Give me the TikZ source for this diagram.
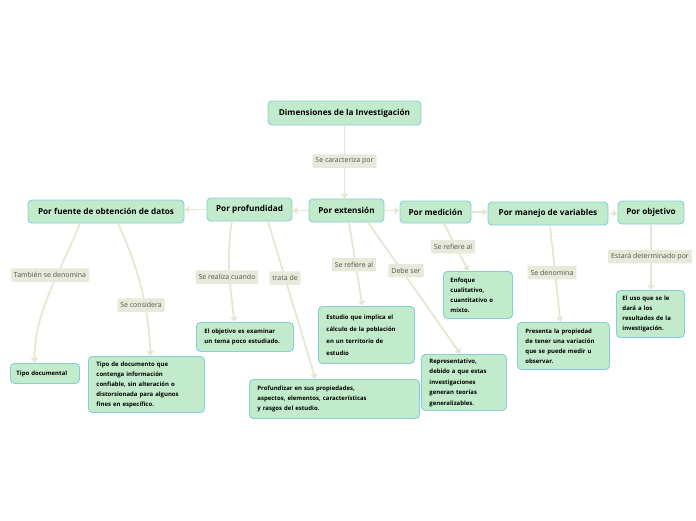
\documentclass[tikz,border=0pt]{standalone}
\usepackage{fontspec}
\setmainfont{Open Sans}
\usetikzlibrary{arrows.meta}
\definecolor{nodefill}{HTML}{C2EBCB}
\definecolor{nodeborder}{HTML}{86CDDC}
\definecolor{lblfill}{HTML}{E8E9DB}
\definecolor{lbltext}{HTML}{555555}
\definecolor{connc}{HTML}{E7E6D4}
\begin{document}
\begin{tikzpicture}[x=1pt,y=-1pt,
  mainbox/.style={draw=nodeborder, fill=nodefill, rounded corners=4pt, line width=0.9pt,
    font=\fontsize{8.2}{9}\selectfont\bfseries, inner sep=0pt},
  subbox/.style={draw=nodeborder, fill=nodefill, rounded corners=4pt, line width=0.9pt,
    font=\fontsize{6}{10}\selectfont\bfseries, align=left, anchor=north west,
    inner xsep=8pt, inner ysep=0pt},
  lbl/.style={fill=lblfill, text=lbltext, font=\fontsize{7}{8}\selectfont,
    inner xsep=3pt, inner ysep=0pt, minimum height=13.5pt, rounded corners=1pt},
  conn/.style={draw=connc, line width=1.7pt},
  arr/.style={conn, -{Triangle[width=7pt,length=5pt]}}
]
\useasboundingbox[fill=white] (0,0) rectangle (696,520);

% main nodes
\node[mainbox, minimum width=153pt, minimum height=24pt] (root) at (344.5,113) {Dimensiones de la Investigación};
\node[mainbox, minimum width=75pt, minimum height=23pt] (ext) at (346.5,210.5) {Por extensión};
\node[mainbox, minimum width=85pt, minimum height=23pt] (prof) at (249.5,209.5) {Por profundidad};
\node[mainbox, minimum width=156pt, minimum height=23pt] (fuente) at (106,211.5) {Por fuente de obtención de datos};
\node[mainbox, minimum width=71pt, minimum height=22pt] (med) at (435.5,212) {Por medición};
\node[mainbox, minimum width=120pt, minimum height=23pt] (manejo) at (548,213.5) {Por manejo de variables};
\node[mainbox, minimum width=66pt, minimum height=23pt] (obj) at (651,212.5) {Por objetivo};

% sub nodes
\node[subbox, minimum width=69pt, minimum height=20pt, text width=57pt, inner xsep=6pt] (tdoc) at (10,363) {Tipo~documental};
\node[subbox, minimum width=116pt, minimum height=56pt, text width=100pt] (tipo) at (88,356) {Tipo~de~documento~que\\contenga~información\\confiable,~sin~alteración~o\\distorsionada~para~algunos\\fines~en~específico.};
\node[subbox, minimum width=97pt, minimum height=29pt, text width=81pt] (objx) at (196,322) {El~objetivo~es~examinar\\un~tema~poco~estudiado.};
\node[subbox, minimum width=170pt, minimum height=39pt, text width=154pt] (profz) at (249,379) {Profundizar en sus propiedades,\\aspectos, elementos, características\\y rasgos del estudio.};
\node[subbox, minimum width=96pt, minimum height=57pt, text width=80pt, font=\fontsize{6}{12}\selectfont\bfseries] (estudio) at (318,306) {Estudio~que~implica~el\\cálculo~de~la~población\\en~un~territorio~de\\estudio};
\node[subbox, minimum width=85pt, minimum height=56pt, text width=69pt, font=\fontsize{6}{10.5}\selectfont\bfseries] (repr) at (421,354) {Representativo,\\debido~a~que~estas\\investigaciones\\generan~teorías\\generalizables.};
\node[subbox, minimum width=69pt, minimum height=47pt, text width=55pt, inner xsep=7pt] (enf) at (443,271) {Enfoque\\cualitativo,\\cuantitativo~o\\mixto.};
\node[subbox, minimum width=92pt, minimum height=47pt, text width=76pt] (pres) at (517,322) {Presenta~la~propiedad\\de~tener~una~variación\\que~se~puede~medir~u\\observar.};
\node[subbox, minimum width=68pt, minimum height=47pt, text width=56pt, inner xsep=6pt] (uso) at (616,290) {El~uso~que~se~le\\dará~a~los\\resultados~de~la\\investigación.};

% connectors between main nodes
\draw[arr] (root.south) -- (root.south |- ext.north);
\draw[arr] (ext.west) -- (prof.east |- ext.west);
\draw[arr] (prof.west) -- (fuente.east |- prof.west);
\draw[arr] (ext.east) -- (med.west |- ext.east);
\draw[arr] (med.east) -- (manejo.west |- med.east);
\draw[arr] (manejo.east) -- (obj.west |- manejo.east);

% connectors to sub nodes
\draw[arr] ([xshift=-26pt]fuente.south) to[out=-112,in=90,looseness=0.9] ([xshift=-10.5pt]tdoc.north);
\draw[arr] ([xshift=12pt]fuente.south) to[out=-65,in=92,looseness=0.9] ([xshift=4pt]tipo.north);
\draw[arr] ([xshift=-17.5pt]prof.south) to[out=-100,in=97,looseness=0.9] ([xshift=-10.5pt]objx.north);
\draw[arr] ([xshift=18.5pt]prof.south) -- ([xshift=-19pt]profz.north);
\draw[arr] ([xshift=2.5pt]ext.south) -- ([xshift=-4pt]estudio.north);
\draw[arr] ([xshift=21.5pt]ext.south) -- ([xshift=-3.5pt]repr.north);
\draw[arr] ([xshift=8.5pt]med.south) -- ([xshift=-9.5pt]enf.north);
\draw[arr] ([xshift=2pt]manejo.south) -- ([xshift=-3pt]pres.north);
\draw[arr] (obj.south) -- (obj.south |- uso.north);

% labels
\node[lbl] (l1) at (344.5,161) {Se caracteriza por};
\node[lbl] (l2) at (50,275) {También se denomina};
\node[lbl] (l3) at (141,305) {Se considera};
\node[lbl] (l4) at (227,277) {Se realiza cuando};
\node[lbl] (l5) at (285,278) {trata de};
\node[lbl] (l6) at (354,264.5) {Se refiere al};
\node[lbl] (l7) at (406,270.5) {Debe ser};
\node[lbl] (l8) at (453,246.5) {Se refiere al};
\node[lbl] (l9) at (552,272.5) {Se denomina};
\node[lbl] (l10) at (650,256.5) {Estará determinado por};
\end{tikzpicture}
\end{document}
